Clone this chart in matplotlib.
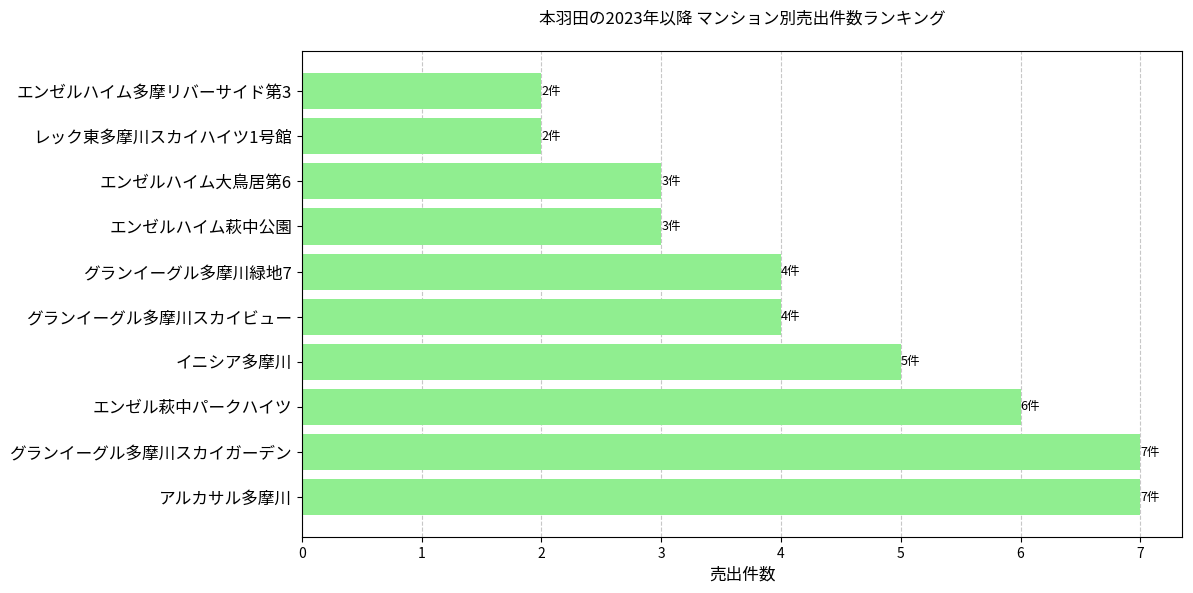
import matplotlib
matplotlib.use("Agg")
import matplotlib.pyplot as plt

plt.rcParams['font.family'] = ['Noto Sans CJK JP', 'DejaVu Sans']

# data (bottom to top)
names = ["アルカサル多摩川", "グランイーグル多摩川スカイガーデン", "エンゼル萩中パークハイツ",
         "イニシア多摩川", "グランイーグル多摩川スカイビュー", "グランイーグル多摩川緑地7",
         "エンゼルハイム萩中公園", "エンゼルハイム大鳥居第6", "レック東多摩川スカイハイツ1号館",
         "エンゼルハイム多摩リバーサイド第3"]
counts = [7, 7, 6, 5, 4, 4, 3, 3, 2, 2]

fig, ax = plt.subplots(figsize=(11.93, 5.93), dpi=100)
bars = ax.barh(names, counts, color='lightgreen')
for b, c in zip(bars, counts):
    ax.text(b.get_width(), b.get_y() + b.get_height() / 2, f"{c}件", va='center', ha='left', fontsize=9)

ax.set_xlabel("売出件数", fontsize=12)
ax.set_title("本羽田の2023年以降 マンション別売出件数ランキング", fontsize=12, pad=20)
ax.tick_params(axis='y', labelsize=12)
ax.grid(axis='x', linestyle='--', alpha=0.7)
ax.set_axisbelow(True)

plt.subplots_adjust(left=0.253, right=0.991, top=0.914, bottom=0.094)
plt.savefig("out.png")
